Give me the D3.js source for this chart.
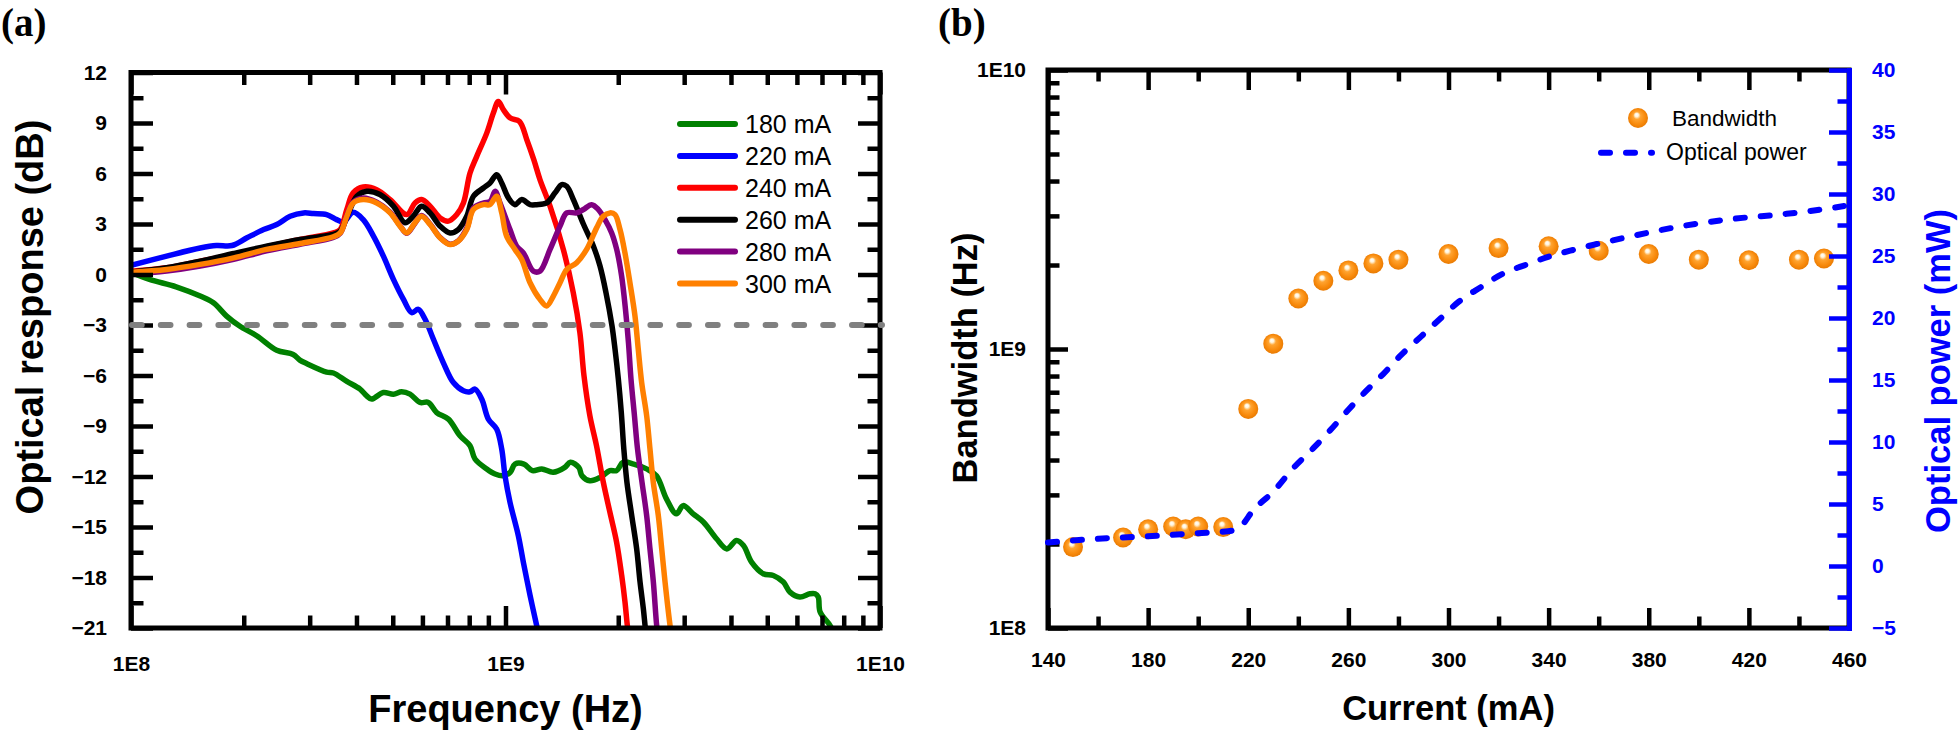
<!DOCTYPE html>
<html><head><meta charset="utf-8">
<script src="https://cdn.jsdelivr.net/npm/d3@7"></script>
<style>body{margin:0;background:#fff}svg{display:block}</style>
</head><body>
<svg id="c" width="1958" height="731"></svg>
<script>
// ---------------- Panel (a) data : [frequency Hz, response dB] ----------------
const seriesLabels = ["180 mA","220 mA","240 mA","260 mA","280 mA","300 mA"];
const resp180 = [[1.00e8,0.14],[1.12e8,-0.29],[1.32e8,-0.73],[1.53e8,-1.28],[1.66e8,-1.68],[1.80e8,-2.47],[1.95e8,-3.06],[2.17e8,-3.65],[2.45e8,-4.50],[2.71e8,-4.75],[2.83e8,-5.10],[2.95e8,-5.30],[3.33e8,-5.80],[3.47e8,-5.85],[3.77e8,-6.35],[4.09e8,-6.81],[4.26e8,-7.21],[4.39e8,-7.40],[4.72e8,-7.01],[5.02e8,-7.11],[5.28e8,-6.97],[5.56e8,-7.11],[5.91e8,-7.60],[6.22e8,-7.60],[6.55e8,-8.20],[7.04e8,-8.59],[7.56e8,-9.58],[8.04e8,-10.17],[8.29e8,-10.96],[8.91e8,-11.55],[9.38e8,-11.85],[9.87e8,-11.95],[1.03e9,-11.75],[1.06e9,-11.26],[1.12e9,-11.26],[1.18e9,-11.65],[1.25e9,-11.55],[1.34e9,-11.75],[1.44e9,-11.46],[1.49e9,-11.16],[1.57e9,-11.46],[1.60e9,-11.95],[1.68e9,-12.25],[1.79e9,-12.05],[1.90e9,-11.65],[1.98e9,-11.65],[2.06e9,-11.16],[2.20e9,-11.26],[2.38e9,-11.55],[2.53e9,-11.95],[2.69e9,-13.33],[2.86e9,-14.22],[2.98e9,-13.73],[3.17e9,-14.22],[3.38e9,-14.72],[3.66e9,-15.70],[3.90e9,-16.30],[4.14e9,-15.80],[4.32e9,-16.10],[4.54e9,-17.09],[4.88e9,-17.78],[5.19e9,-17.88],[5.52e9,-18.27],[5.75e9,-18.87],[6.11e9,-19.16],[6.50e9,-18.97],[6.71e9,-18.97],[6.84e9,-19.16],[6.92e9,-20.05],[7.35e9,-20.84],[7.50e9,-21.30]];
const resp220 = [[1.00e8,0.54],[1.245e8,1.09],[1.53e8,1.57],[1.69e8,1.72],[1.86e8,1.72],[2.04e8,2.18],[2.26e8,2.67],[2.45e8,2.97],[2.66e8,3.46],[2.89e8,3.66],[3.07e8,3.62],[3.33e8,3.56],[3.54e8,3.26],[3.69e8,3.11],[3.92e8,3.70],[4.17e8,3.26],[4.44e8,2.28],[4.72e8,1.09],[5.02e8,-0.29],[5.34e8,-1.48],[5.62e8,-2.27],[5.85e8,-2.07],[6.10e8,-2.66],[6.42e8,-3.85],[6.82e8,-5.23],[7.26e8,-6.42],[7.72e8,-6.91],[8.04e8,-6.97],[8.29e8,-6.81],[8.64e8,-7.40],[9.00e8,-8.59],[9.47e8,-9.18],[9.77e8,-10.37],[9.97e8,-11.95],[1.028e9,-13.53],[1.082e9,-15.51],[1.116e9,-17.09],[1.163e9,-19.06],[1.211e9,-20.84],[1.225e9,-21.30]];
const resp240 = [[1.00e8,0.20],[1.245e8,0.40],[1.53e8,0.79],[1.88e8,1.19],[2.30e8,1.64],[2.83e8,2.08],[3.47e8,2.47],[3.62e8,2.67],[3.77e8,3.86],[3.92e8,4.85],[4.17e8,5.20],[4.53e8,5.04],[4.92e8,4.45],[5.45e8,3.56],[5.73e8,4.25],[5.97e8,4.45],[6.29e8,4.06],[6.69e8,3.36],[7.04e8,3.17],[7.41e8,3.56],[7.72e8,4.25],[8.04e8,6.03],[8.38e8,7.02],[8.91e8,8.40],[9.28e8,9.59],[9.57e8,10.28],[9.87e8,9.79],[1.03e9,9.29],[1.09e9,9.09],[1.14e9,8.01],[1.19e9,6.82],[1.236e9,5.64],[1.315e9,4.06],[1.427e9,1.49],[1.517e9,-1.08],[1.58e9,-3.45],[1.62e9,-6.00],[1.68e9,-8.39],[1.75e9,-10.17],[1.825e9,-12.35],[1.90e9,-14.12],[1.98e9,-15.90],[2.043e9,-17.88],[2.085e9,-19.46],[2.115e9,-20.84],[2.13e9,-21.30]];
const resp260 = [[1.00e8,0.14],[1.245e8,0.40],[1.53e8,0.79],[1.88e8,1.25],[2.30e8,1.68],[2.83e8,2.08],[3.47e8,2.38],[3.62e8,2.57],[3.81e8,3.66],[4.01e8,4.65],[4.26e8,4.94],[4.62e8,4.75],[5.02e8,4.06],[5.39e8,3.07],[5.67e8,3.46],[5.97e8,4.06],[6.29e8,3.66],[6.69e8,2.87],[7.11e8,2.47],[7.48e8,2.67],[7.88e8,3.46],[8.21e8,4.65],[8.73e8,5.14],[9.09e8,5.44],[9.47e8,5.93],[9.77e8,5.44],[1.018e9,4.55],[1.06e9,4.15],[1.105e9,4.45],[1.163e9,4.15],[1.211e9,4.15],[1.288e9,4.25],[1.356e9,4.85],[1.413e9,5.34],[1.457e9,5.24],[1.518e9,4.45],[1.614e9,3.00],[1.716e9,1.70],[1.788e9,0.50],[1.855e9,-1.08],[1.925e9,-3.06],[1.961e9,-4.44],[2.001e9,-6.20],[2.038e9,-8.20],[2.070e9,-10.37],[2.110e9,-12.35],[2.173e9,-14.32],[2.240e9,-16.30],[2.287e9,-18.27],[2.334e9,-19.86],[2.358e9,-20.84],[2.37e9,-21.30]];
const resp280 = [[1.00e8,0.00],[1.245e8,0.20],[1.53e8,0.50],[1.88e8,0.90],[2.30e8,1.40],[2.83e8,1.80],[3.47e8,2.20],[3.62e8,2.45],[3.77e8,3.50],[3.92e8,4.30],[4.17e8,4.55],[4.53e8,4.30],[4.92e8,3.70],[5.23e8,2.90],[5.45e8,2.45],[5.73e8,3.05],[5.97e8,3.50],[6.29e8,3.00],[6.69e8,2.20],[7.11e8,1.80],[7.48e8,2.00],[7.88e8,2.75],[8.21e8,3.95],[8.73e8,4.25],[9.10e8,4.35],[9.38e8,4.94],[9.67e8,4.25],[1.028e9,2.67],[1.071e9,1.68],[1.116e9,1.29],[1.187e9,0.20],[1.236e9,0.20],[1.315e9,1.49],[1.398e9,2.87],[1.457e9,3.66],[1.549e9,3.66],[1.614e9,3.86],[1.699e9,4.15],[1.770e9,3.86],[1.844e9,3.26],[1.921e9,2.47],[1.981e9,1.49],[2.042e9,-0.09],[2.091e9,-2.07],[2.130e9,-4.05],[2.163e9,-6.20],[2.210e9,-8.40],[2.252e9,-10.37],[2.315e9,-12.35],[2.382e9,-14.32],[2.431e9,-16.30],[2.482e9,-18.27],[2.533e9,-20.84],[2.55e9,-21.30]];
const resp300 = [[1.00e8,0.14],[1.245e8,0.30],[1.53e8,0.60],[1.88e8,0.99],[2.30e8,1.49],[2.83e8,1.84],[3.47e8,2.24],[3.62e8,2.47],[3.77e8,3.46],[3.92e8,4.25],[4.17e8,4.45],[4.53e8,4.25],[4.92e8,3.66],[5.23e8,2.87],[5.45e8,2.47],[5.73e8,3.07],[5.97e8,3.46],[6.29e8,2.97],[6.69e8,2.18],[7.11e8,1.78],[7.48e8,1.98],[7.88e8,2.67],[8.21e8,3.86],[8.73e8,4.15],[9.09e8,4.15],[9.47e8,4.65],[9.77e8,3.66],[1.007e9,2.28],[1.06e9,1.49],[1.105e9,0.89],[1.163e9,-0.49],[1.236e9,-1.48],[1.288e9,-1.87],[1.342e9,-1.28],[1.398e9,-0.49],[1.457e9,0.30],[1.549e9,0.70],[1.647e9,1.49],[1.751e9,2.77],[1.824e9,3.46],[1.901e9,3.66],[1.961e9,3.56],[2.022e9,2.67],[2.084e9,1.29],[2.149e9,-0.49],[2.217e9,-2.47],[2.262e9,-4.44],[2.310e9,-6.42],[2.382e9,-8.39],[2.431e9,-10.37],[2.481e9,-12.35],[2.559e9,-14.32],[2.613e9,-16.30],[2.667e9,-18.27],[2.750e9,-20.84],[2.77e9,-21.30]];
const refLevelDB = -3;
const dbTicks = [12,9,6,3,0,-3,-6,-9,-12,-15,-18,-21];
const dbMinorTicks = [10.5,7.5,4.5,1.5,-1.5,-4.5,-7.5,-10.5,-13.5,-16.5,-19.5];
const freqTicks = [1e8,1e9,1e10];
const freqTickLabels = ["1E8","1E9","1E10"];

// ---------------- Panel (b) data ----------------
const bwCurrent = [150,170,180,190,195,200,210,220,230,240,250,260,270,280,300,320,340,360,380,400,420,440,450];
const bwHz = [1.95e8,2.11e8,2.26e8,2.31e8,2.26e8,2.31e8,2.30e8,6.1e8,1.045e9,1.517e9,1.757e9,1.913e9,2.027e9,2.09e9,2.19e9,2.30e9,2.335e9,2.25e9,2.19e9,2.09e9,2.08e9,2.09e9,2.11e9];
const powCurrent = [140,160,180,200,212,217,222,230,238,246,253,260,267,274,281,289,297,304,313,321,331,341,350,371,393,414,435,454,460];
const powMW = [1.9,2.2,2.4,2.65,2.8,3.2,4.5,6.0,7.9,9.5,11.0,12.6,14.1,15.5,17.0,18.5,20.0,21.3,22.5,23.5,24.3,25.0,25.5,26.5,27.4,28.0,28.4,28.9,29.1];
const currentTicks = [140,180,220,260,300,340,380,420,460];
const currentMinorTicks = [160,200,240,280,320,360,400,440];
const bwTicks = [1e8,1e9,1e10];
const bwTickLabels = ["1E8","1E9","1E10"];
const powerTicks = [-5,0,5,10,15,20,25,30,35,40];
const powerMinorTicks = [-2.5,2.5,7.5,12.5,17.5,22.5,27.5,32.5,37.5];

// ---------------- styles ----------------
const seriesColors = ["#008000","#0000ff","#ff0000","#000000","#800080","#ff8000"];
const FONT = "'Liberation Sans', Arial, Helvetica, sans-serif";
const svg = d3.select("#c");
const defs = svg.append("defs");

const grad = defs.append("radialGradient").attr("id","ball")
  .attr("cx","0.5").attr("cy","0.5").attr("r","0.55").attr("fx","0.42").attr("fy","0.32");
[[0,"#ffffff"],[0.16,"#fff4dc"],[0.34,"#ffa431"],[0.7,"#f88a0c"],[1,"#e47600"]].forEach(s=>
  grad.append("stop").attr("offset",s[0]).attr("stop-color",s[1]));

function styleAxis(g, size, color){
  g.select(".domain").remove();
  g.selectAll(".tick line").attr("stroke-width",4.5);
  g.attr("font-family",FONT).attr("font-size",size||21).attr("font-weight","bold")
   .attr("color",color||"#000");
}

// ================= Panel (a) =================
const A = {l:131, r:880, t:72.5, b:628};
const xA = d3.scaleLog().domain([1e8,1e10]).range([A.l,A.r]);
const yA = d3.scaleLinear().domain([-21,12]).range([A.b,A.t]);
const minorF = xA.ticks().filter(v => Math.abs(Math.log10(v) - Math.round(Math.log10(v))) > 1e-6);

defs.append("clipPath").attr("id","clipA").append("rect")
  .attr("x",A.l).attr("y",A.t).attr("width",A.r-A.l).attr("height",A.b-A.t);

const lineA = d3.line().x(d=>xA(d[0])).y(d=>yA(d[1])).curve(d3.curveCatmullRom.alpha(0.5));
const allSeries = [resp180,resp220,resp240,resp260,resp280,resp300];
const gCurves = svg.append("g").attr("clip-path","url(#clipA)");
allSeries.forEach((s,i)=>{
  gCurves.append("path").datum(s).attr("d",lineA).attr("fill","none")
    .attr("stroke",seriesColors[i]).attr("stroke-width",5.5)
    .attr("stroke-linejoin","round").attr("stroke-linecap","round");
});

// frame
svg.append("rect").attr("x",A.l).attr("y",A.t).attr("width",A.r-A.l).attr("height",A.b-A.t)
  .attr("fill","none").attr("stroke","#000").attr("stroke-width",5);

// axes
svg.append("g").attr("transform",`translate(0,${A.b})`)
  .call(d3.axisBottom(xA).tickValues(freqTicks).tickFormat((d,i)=>freqTickLabels[i]).tickSizeInner(-22).tickSizeOuter(0).tickPadding(28))
  .call(g=>styleAxis(g));
svg.append("g").attr("transform",`translate(0,${A.b})`)
  .call(d3.axisBottom(xA).tickValues(minorF).tickFormat("").tickSizeInner(-12.5).tickSizeOuter(0))
  .call(g=>styleAxis(g));
svg.append("g").attr("transform",`translate(0,${A.t})`)
  .call(d3.axisTop(xA).tickValues(freqTicks).tickFormat("").tickSizeInner(-22).tickSizeOuter(0))
  .call(g=>styleAxis(g));
svg.append("g").attr("transform",`translate(0,${A.t})`)
  .call(d3.axisTop(xA).tickValues(minorF).tickFormat("").tickSizeInner(-12.5).tickSizeOuter(0))
  .call(g=>styleAxis(g));
svg.append("g").attr("transform",`translate(${A.l},0)`)
  .call(d3.axisLeft(yA).tickValues(dbTicks).tickFormat(d3.format("d")).tickSizeInner(-22).tickSizeOuter(0).tickPadding(24))
  .call(g=>styleAxis(g));
svg.append("g").attr("transform",`translate(${A.l},0)`)
  .call(d3.axisLeft(yA).tickValues(dbMinorTicks).tickFormat("").tickSizeInner(-12.5).tickSizeOuter(0))
  .call(g=>styleAxis(g));
svg.append("g").attr("transform",`translate(${A.r},0)`)
  .call(d3.axisRight(yA).tickValues(dbTicks).tickFormat("").tickSizeInner(-22).tickSizeOuter(0))
  .call(g=>styleAxis(g));
svg.append("g").attr("transform",`translate(${A.r},0)`)
  .call(d3.axisRight(yA).tickValues(dbMinorTicks).tickFormat("").tickSizeInner(-12.5).tickSizeOuter(0))
  .call(g=>styleAxis(g));

// -3 dB reference
svg.append("line").attr("x1",A.l+1).attr("x2",A.r+2).attr("y1",yA(refLevelDB)).attr("y2",yA(refLevelDB))
  .attr("stroke","#808080").attr("stroke-width",6).attr("stroke-linecap","round")
  .attr("stroke-dasharray","9.7,19.1");

// legend (a)
const legA = svg.append("g");
seriesLabels.forEach((lab,i)=>{
  const y = 124 + i*31.9;
  legA.append("line").attr("x1",680).attr("x2",735).attr("y1",y).attr("y2",y)
    .attr("stroke",seriesColors[i]).attr("stroke-width",6).attr("stroke-linecap","round");
  legA.append("text").attr("x",745).attr("y",y+9).text(lab)
    .attr("font-family",FONT).attr("font-size",25).attr("fill","#000");
});

// titles (a)
svg.append("text").attr("x",(A.l+A.r)/2).attr("y",722).attr("text-anchor","middle")
  .attr("font-family",FONT).attr("font-weight","bold").attr("font-size",38).text("Frequency (Hz)");
svg.append("text").attr("transform","translate(43,317) rotate(-90)").attr("text-anchor","middle")
  .attr("font-family",FONT).attr("font-weight","bold").attr("font-size",38).text("Optical response (dB)");
svg.append("text").attr("x",1).attr("y",36).attr("font-family","'Liberation Serif', 'Times New Roman', serif")
  .attr("font-weight","bold").attr("font-size",39).text("(a)");

// ================= Panel (b) =================
const B = {l:1048, r:1849, t:70, b:628};
const xB = d3.scaleLinear().domain([140,460]).range([B.l,B.r]);
const yB = d3.scaleLog().domain([1e8,1e10]).range([B.b,B.t]);
const yP = d3.scaleLinear().domain([-5,40]).range([B.b,B.t]);
const minorBW = yB.ticks().filter(v => Math.abs(Math.log10(v) - Math.round(Math.log10(v))) > 1e-6);

svg.append("rect").attr("x",B.l).attr("y",B.t).attr("width",B.r-B.l).attr("height",B.b-B.t)
  .attr("fill","none").attr("stroke","#000").attr("stroke-width",5);

svg.append("g").attr("transform",`translate(0,${B.b})`)
  .call(d3.axisBottom(xB).tickValues(currentTicks).tickFormat(d3.format("d")).tickSizeInner(-20).tickSizeOuter(0).tickPadding(24))
  .call(g=>styleAxis(g));
svg.append("g").attr("transform",`translate(0,${B.b})`)
  .call(d3.axisBottom(xB).tickValues(currentMinorTicks).tickFormat("").tickSizeInner(-11.5).tickSizeOuter(0))
  .call(g=>styleAxis(g));
svg.append("g").attr("transform",`translate(0,${B.t})`)
  .call(d3.axisTop(xB).tickValues(currentTicks).tickFormat("").tickSizeInner(-20).tickSizeOuter(0))
  .call(g=>styleAxis(g));
svg.append("g").attr("transform",`translate(0,${B.t})`)
  .call(d3.axisTop(xB).tickValues(currentMinorTicks).tickFormat("").tickSizeInner(-11.5).tickSizeOuter(0))
  .call(g=>styleAxis(g));
svg.append("g").attr("transform",`translate(${B.l},0)`)
  .call(d3.axisLeft(yB).tickValues(bwTicks).tickFormat((d,i)=>bwTickLabels[i]).tickSizeInner(-20).tickSizeOuter(0).tickPadding(22))
  .call(g=>styleAxis(g));
svg.append("g").attr("transform",`translate(${B.l},0)`)
  .call(d3.axisLeft(yB).tickValues(minorBW).tickFormat("").tickSizeInner(-11.5).tickSizeOuter(0))
  .call(g=>styleAxis(g));

// bandwidth markers
const bwData = d3.zip(bwCurrent,bwHz);
svg.append("g").selectAll("circle").data(bwData).join("circle")
  .attr("cx",d=>xB(d[0])).attr("cy",d=>yB(d[1])).attr("r",10).attr("fill","url(#ball)");

// optical power dashed line
const powData = d3.zip(powCurrent,powMW);
svg.append("path").datum(powData)
  .attr("d",d3.line().x(d=>xB(d[0])).y(d=>yP(d[1])).curve(d3.curveMonotoneX))
  .attr("fill","none").attr("stroke","#0000ff").attr("stroke-width",6)
  .attr("stroke-linecap","round").attr("stroke-dasharray","9,16");

// right blue axis
svg.append("g").attr("transform",`translate(${B.r},0)`)
  .call(d3.axisRight(yP).tickValues(powerTicks).tickFormat(d3.format("d")).tickSizeInner(-20).tickSizeOuter(0).tickPadding(23))
  .call(g=>{ g.selectAll(".tick line").attr("stroke-width",4.5);
    g.select(".domain").attr("stroke-width",5).attr("stroke-linecap","square");
    g.attr("font-family",FONT).attr("font-size",21).attr("font-weight","bold").attr("color","#0000ff"); });
svg.append("g").attr("transform",`translate(${B.r},0)`)
  .call(d3.axisRight(yP).tickValues(powerMinorTicks).tickFormat("").tickSizeInner(-11.5).tickSizeOuter(0))
  .call(g=>styleAxis(g,21,"#0000ff"));

// legend (b)
svg.append("circle").attr("cx",1638).attr("cy",118).attr("r",10).attr("fill","url(#ball)");
svg.append("text").attr("x",1672).attr("y",126).attr("font-family",FONT).attr("font-size",22.5).text("Bandwidth");
svg.append("line").attr("x1",1601).attr("x2",1652).attr("y1",152.7).attr("y2",152.7)
  .attr("stroke","#0000ff").attr("stroke-width",6).attr("stroke-linecap","round").attr("stroke-dasharray","9,16");
svg.append("text").attr("x",1666).attr("y",160).attr("font-family",FONT).attr("font-size",23).text("Optical power");

// titles (b)
svg.append("text").attr("x",(B.l+B.r)/2).attr("y",720).attr("text-anchor","middle")
  .attr("font-family",FONT).attr("font-weight","bold").attr("font-size",34.5).text("Current (mA)");
svg.append("text").attr("transform","translate(977,358) rotate(-90)").attr("text-anchor","middle")
  .attr("font-family",FONT).attr("font-weight","bold").attr("font-size",34.5).text("Bandwidth (Hz)");
svg.append("text").attr("transform","translate(1950,371) rotate(-90)").attr("text-anchor","middle")
  .attr("font-family",FONT).attr("font-weight","bold").attr("font-size",34.5).attr("fill","#0000ff").text("Optical power (mW)");
svg.append("text").attr("x",938).attr("y",36).attr("font-family","'Liberation Serif', 'Times New Roman', serif")
  .attr("font-weight","bold").attr("font-size",39).text("(b)");
</script>
</body></html>
